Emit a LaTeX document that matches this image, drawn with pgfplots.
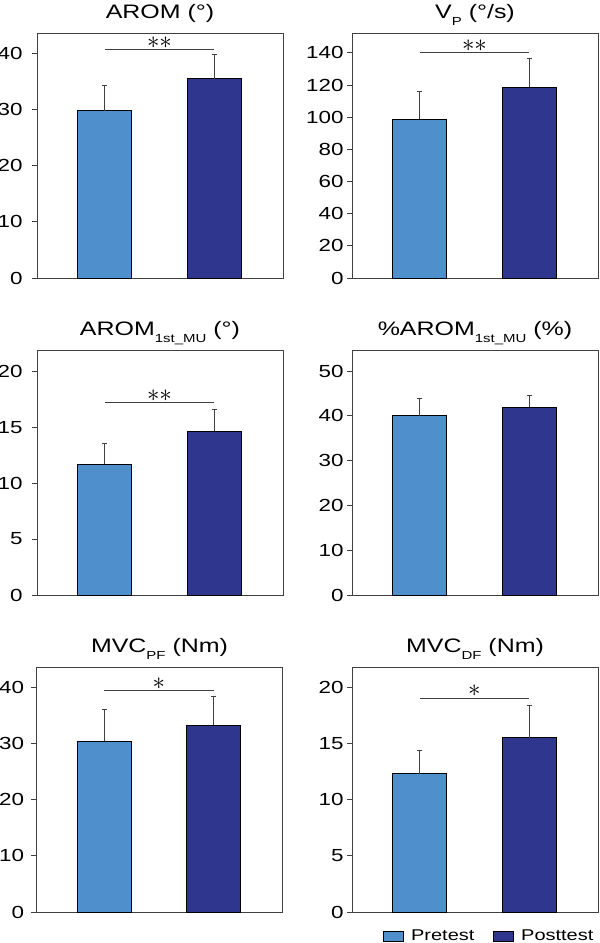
\documentclass[border=0pt]{standalone}
\usepackage{fontspec}
\setmainfont{Liberation Sans}[FakeStretch=1.28]
\usepackage{pgfplots}
\pgfplotsset{compat=1.18}
\definecolor{pre}{HTML}{4F8FCB}
\definecolor{post}{HTML}{2E368E}
\definecolor{axgray}{HTML}{404040}
\newcommand{\tickfont}{\fontsize{17.5}{19}\selectfont}
\newcommand{\legfont}{\fontsize{15.6}{17}\selectfont}
\newcommand{\titlefont}{\fontsize{19.5}{21}\selectfont}
\newcommand{\sub}[1]{\raisebox{-6.5pt}{\fontsize{11.7}{12}\selectfont #1}}
\newcommand{\stars}[1]{\fontsize{24}{26}\selectfont$#1$}
\pgfplotsset{
  panel/.style={
    scale only axis,
    width=246pt, height=245pt,
    anchor=south west,
    xmin=0.38, xmax=2.63,
    ymin=0,
    xtick=\empty,
    axis line style={axgray, line width=0.9pt},
    ytick style={axgray, line width=0.9pt},
    tick align=outside,
    major tick length=5pt,
    ytick pos=left,
    yticklabel style={font=\tickfont},
    /pgf/number format/assume math mode=true,
    title style={font=\titlefont, anchor=base, at={(axis description cs:0.5,1)}, yshift=8pt},
    clip=false,
  },
  prebar/.style={ybar, bar width=54pt, bar shift=0pt, fill=pre, draw=black, line width=0.8pt,
    error bars/.cd, y dir=plus, y explicit,
    error bar style={axgray, line width=0.9pt},
    error mark options={rotate=90, mark size=2.5pt, axgray, line width=0.9pt}},
  postbar/.style={ybar, bar width=54pt, bar shift=0pt, fill=post, draw=black, line width=0.8pt,
    error bars/.cd, y dir=plus, y explicit,
    error bar style={axgray, line width=0.9pt},
    error mark options={rotate=90, mark size=2.5pt, axgray, line width=0.9pt}},
  sig/.style={axgray, line width=0.9pt, no marks, sharp plot, forget plot},
}
\begin{document}
\begin{tikzpicture}
\useasboundingbox (0pt,0pt) rectangle (600pt,943pt);
% Panel 1: AROM
\begin{axis}[panel, at={(37pt,665pt)}, ymax=43.6, ytick={0,10,20,30,40},
  yticklabel style={xshift=-6pt}, title={AROM (°)}]
\addplot[prebar] coordinates {(1,29.8) +- (0,4.4)};
\addplot[postbar] coordinates {(2,35.5) +- (0,4.3)};
\addplot[sig] coordinates {(1,40.6) (2,40.6)};
\node[anchor=base, inner sep=0pt] at (axis cs:1.5,40.6) [yshift=1.5pt] {\stars{\ast\ast}};
\end{axis}
% Panel 2: VP
\begin{axis}[panel, at={(352pt,665pt)}, ymax=152.4, ytick={0,20,40,60,80,100,120,140},
  title={V\sub{P} (°/s)}]
\addplot[prebar] coordinates {(1,98.9) +- (0,17.4)};
\addplot[postbar] coordinates {(2,118.6) +- (0,18.0)};
\addplot[sig] coordinates {(1,140) (2,140)};
\node[anchor=base, inner sep=0pt] at (axis cs:1.5,140) [yshift=1.5pt] {\stars{\ast\ast}};
\end{axis}
% Panel 3: AROM 1st MU
\begin{axis}[panel, at={(37pt,348pt)}, ymax=21.9, ytick={0,5,10,15,20},
  yticklabel style={xshift=-6pt}, title={AROM\sub{1st\_MU} (°)}]
\addplot[prebar] coordinates {(1,11.7) +- (0,1.85)};
\addplot[postbar] coordinates {(2,14.65) +- (0,1.95)};
\addplot[sig] coordinates {(1,17.2) (2,17.2)};
\node[anchor=base, inner sep=0pt] at (axis cs:1.5,17.2) [yshift=1.5pt] {\stars{\ast\ast}};
\end{axis}
% Panel 4: %AROM 1st MU
\begin{axis}[panel, at={(352pt,348pt)}, ymax=54.7, ytick={0,10,20,30,40,50},
  title={\%AROM\sub{1st\_MU} (\%)}]
\addplot[prebar] coordinates {(1,40.0) +- (0,3.8)};
\addplot[postbar] coordinates {(2,41.9) +- (0,2.6)};
\end{axis}
% Panel 5: MVC PF
\begin{axis}[panel, at={(36.5pt,31pt)}, ymax=43.7, ytick={0,10,20,30,40},
  yticklabel style={xshift=-4pt}, title={MVC\sub{PF} (Nm)}]
\addplot[prebar] coordinates {(1,30.5) +- (0,5.7)};
\addplot[postbar] coordinates {(2,33.3) +- (0,5.1)};
\addplot[sig] coordinates {(1,39.5) (2,39.5)};
\node[anchor=base, inner sep=0pt] at (axis cs:1.5,39.5) [yshift=1.5pt] {\stars{\ast}};
\end{axis}
% Panel 6: MVC DF
\begin{axis}[panel, at={(352pt,31pt)}, ymax=21.8, ytick={0,5,10,15,20},
  title={MVC\sub{DF} (Nm)},
  legend style={at={(axis description cs:0.99,-0.065)}, anchor=north east, draw=none, fill=none,
    font=\legfont, legend columns=2, inner sep=0pt,
    /tikz/every odd column/.append style={column sep=5pt},
    /tikz/every even column/.append style={column sep=17pt}},
  legend image code/.code={\draw[#1, draw=black, line width=0.8pt] (0pt,-5pt) rectangle (20pt,5pt);},
  ]
\addplot[prebar] coordinates {(1,12.3) +- (0,2.1)};
\addlegendentry{Pretest}
\addplot[postbar] coordinates {(2,15.5) +- (0,2.9)};
\addlegendentry{Posttest}
\addplot[sig] coordinates {(1,19.0) (2,19.0)};
\node[anchor=base, inner sep=0pt] at (axis cs:1.5,19.0) [yshift=1.5pt] {\stars{\ast}};
\end{axis}
\end{tikzpicture}
\end{document}
